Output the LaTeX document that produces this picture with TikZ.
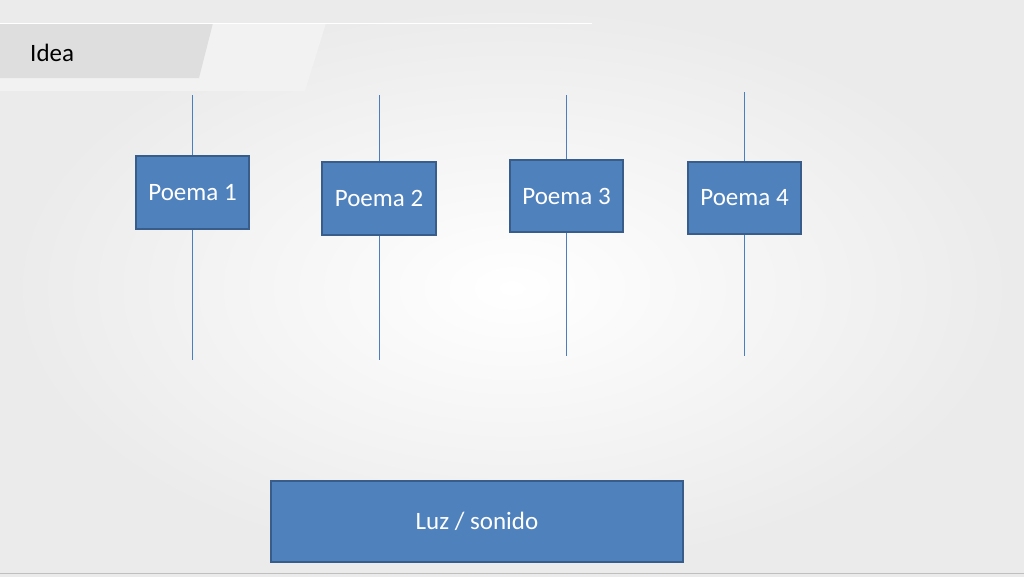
\documentclass[tikz,border=0pt]{standalone}
\usepackage{fontspec}
\setmainfont{Carlito}
\begin{document}
\begin{tikzpicture}[x=1pt,y=-1pt,
  pbox/.style={draw=boxedge, fill=boxblue, line width=1.5pt, text=white, font=\fontsize{25}{29}\selectfont, inner sep=0pt},
  vline/.style={draw=lineblue, line width=0.8pt}]
\definecolor{boxblue}{HTML}{4F81BD}
\definecolor{lineblue}{HTML}{4A7EC0}
\definecolor{boxedge}{HTML}{385D8A}
\useasboundingbox (0,0) rectangle (1024,576);
\shade[inner color=white, outer color=black!8] (0,0) rectangle (1024,576);
% header
\fill[black!5] (0,23) -- (326,23) -- (305,91) -- (0,91) -- cycle;
\fill[black!13] (0,23) -- (213,23) -- (199,78) -- (0,78) -- cycle;
\draw[white, line width=1pt] (0,23) -- (592,23);
\node[anchor=west, font=\fontsize{25}{29}\selectfont, inner sep=0pt] (idea) at (30,53) {Idea};
\draw[black!25, line width=1pt] (0,573) -- (1024,573);
% lines
\coordinate (t1) at (192,95); \coordinate (b1) at (192,360);
\coordinate (t2) at (379,95); \coordinate (b2) at (379,360);
\coordinate (t3) at (566,95); \coordinate (b3) at (566,356);
\coordinate (t4) at (744,92); \coordinate (b4) at (744,356);
\draw[vline] (t1) -- (b1);
\draw[vline] (t2) -- (b2);
\draw[vline] (t3) -- (b3);
\draw[vline] (t4) -- (b4);
% boxes
\node[pbox, minimum width=113pt, minimum height=73pt] (p1) at (192.5,192.5) {Poema 1};
\node[pbox, minimum width=114pt, minimum height=73pt] (p2) at (379,198.5) {Poema 2};
\node[pbox, minimum width=113pt, minimum height=72pt] (p3) at (566.5,196) {Poema 3};
\node[pbox, minimum width=113pt, minimum height=72pt] (p4) at (744.5,198) {Poema 4};
\node[pbox, minimum width=412pt, minimum height=81pt] (luz) at (477,521.5) {Luz / sonido};
\end{tikzpicture}
\end{document}
